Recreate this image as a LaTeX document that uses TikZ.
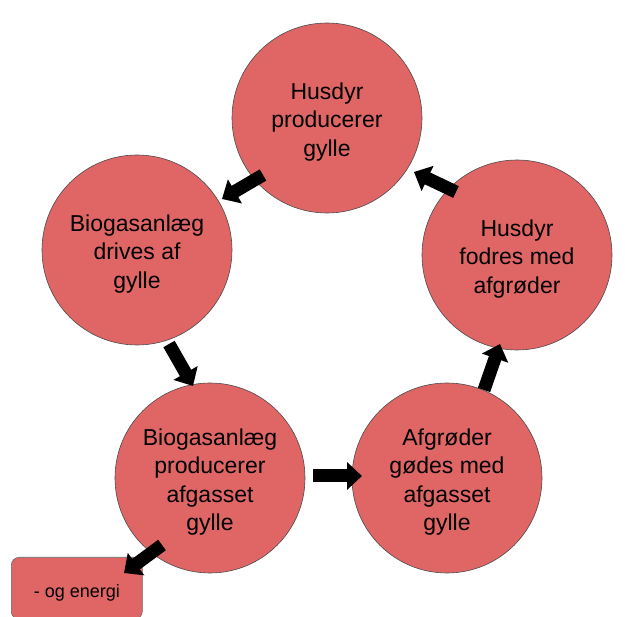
\documentclass[tikz,border=0pt]{standalone}
\usepackage{fontspec}
\setmainfont{Liberation Sans}
\usetikzlibrary{arrows.meta}

\definecolor{kredsrod}{HTML}{E06666}
\tikzset{
  kreds/.style = {circle, draw = black!70, line width = 0.6pt, fill = kredsrod,
    minimum size = 190pt, inner sep = 0pt},
  tekst/.style = {align = center, yshift = -4pt, inner sep = 0pt,
    font = \fontsize{23}{28.5}\selectfont},
  pil/.style = {line width = 13pt, -{Triangle[width = 27pt, length = 15pt]}},
  boks/.style = {rectangle, rounded corners = 8pt, draw = black!60, line width = 0.6pt,
    fill = kredsrod, minimum width = 131pt, minimum height = 62pt, anchor = north west,
    text height = 18pt, text depth = 0pt, font = \fontsize{18}{22}\selectfont}
}

\begin{document}
\begin{tikzpicture}[x = 1pt, y = -1pt]
\useasboundingbox (0,0) rectangle (625,617);

\node[kreds, label = {[tekst]center:Husdyr\\producerer\\gylle}] (husdyr) at (327,118) {};
\node[kreds, label = {[tekst]center:Biogasanlæg\\drives af\\gylle}] (anlaeg) at (137,250) {};
\node[kreds, label = {[tekst]center:Biogasanlæg\\producerer\\afgasset\\gylle}] (afgas) at (210,478) {};
\node[kreds, label = {[tekst]center:Afgrøder\\gødes med\\afgasset\\gylle}] (goedes) at (447,478) {};
\node[kreds, label = {[tekst]center:Husdyr\\fodres med\\afgrøder}] (fodres) at (517,255) {};
\node[boks] (energi) at (11,557) {- og energi};

% pilenes ender
\coordinate (p1a) at (263,175); \coordinate (p1b) at (222,199);
\coordinate (p2a) at (169,344); \coordinate (p2b) at (193,386);
\coordinate (p3a) at (313,476); \coordinate (p3b) at (362,476);
\coordinate (p4a) at (484,390); \coordinate (p4b) at (500,344);
\coordinate (p5a) at (456,192); \coordinate (p5b) at (414,172);
\coordinate (p6a) at (162,545); \coordinate (p6b) at (124,573);

\draw[pil] (p1a) -- (p1b);
\draw[pil] (p2a) -- (p2b);
\draw[pil] (p3a) -- (p3b);
\draw[pil] (p4a) -- (p4b);
\draw[pil] (p5a) -- (p5b);
\draw[pil] (p6a) -- (p6b);
\end{tikzpicture}
\end{document}
